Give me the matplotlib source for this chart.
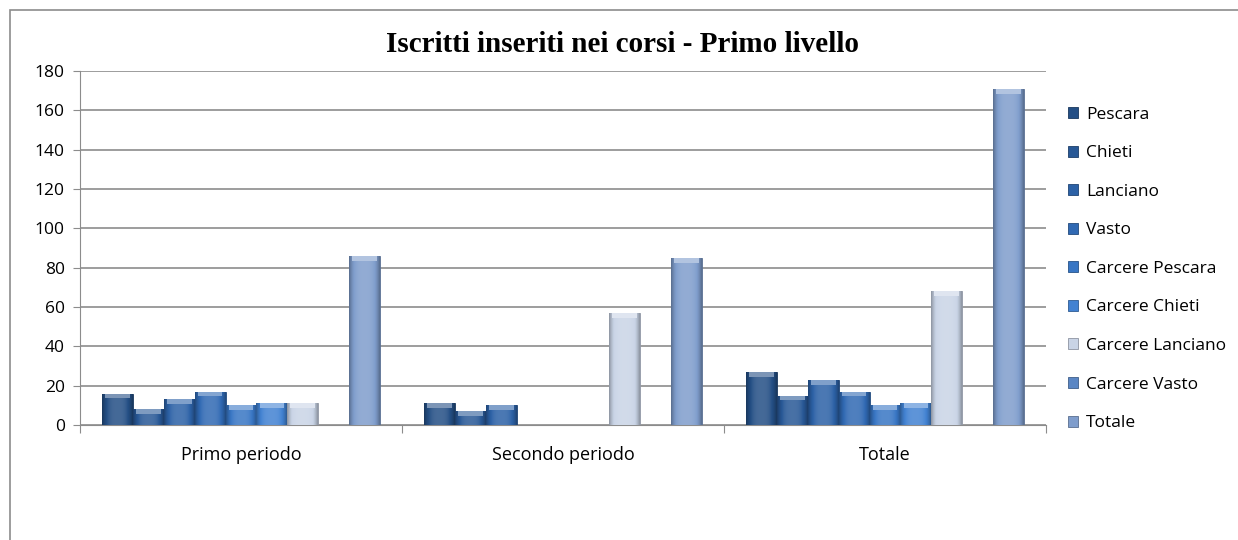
import numpy as np
import matplotlib
matplotlib.use("Agg")
import matplotlib.pyplot as plt
from matplotlib.colors import to_rgb
from matplotlib.patches import Rectangle

categories = ["Primo periodo", "Secondo periodo", "Totale"]
series = ["Pescara", "Chieti", "Lanciano", "Vasto", "Carcere Pescara",
          "Carcere Chieti", "Carcere Lanciano", "Carcere Vasto", "Totale"]
values = {
    "Pescara":          [16, 11, 27],
    "Chieti":           [8, 7, 15],
    "Lanciano":         [13, 10, 23],
    "Vasto":            [17, 0, 17],
    "Carcere Pescara":  [10, 0, 10],
    "Carcere Chieti":   [11, 0, 11],
    "Carcere Lanciano": [11, 57, 68],
    "Carcere Vasto":    [0, 0, 0],
    "Totale":           [86, 85, 171],
}
colors = ["#244f85", "#285896", "#2c61a6", "#3069b3", "#3876c4",
          "#4282d2", "#c9d4e6", "#5a86c4", "#7f9dcc"]

fig = plt.figure(figsize=(12.38, 5.4), dpi=100)
ax = fig.add_axes([80/1238, 1 - 425/540, (1046-80)/1238, (425-71)/540])

n = len(series)
bw = 0.096
x = np.arange(len(categories))

def shade(c, f):
    r = np.array(to_rgb(c))
    return np.clip(r * f, 0, 1) if f < 1 else np.clip(r + (1 - r) * (f - 1), 0, 1)

for i, s in enumerate(series):
    pos = x + (i - (n - 1) / 2) * bw
    bars = ax.bar(pos, values[s], bw, color=colors[i], edgecolor=shade(colors[i], 0.7),
                  linewidth=0.6, label=s, zorder=3)
    for b in bars:
        h = b.get_height()
        if h <= 0:
            continue
        x0, w = b.get_x(), b.get_width()
        t = np.linspace(0, 1, 64)
        prof = 1.0 - 0.9 * (np.abs(t - 0.5) * 2) ** 3
        grad = np.array([shade(colors[i], 0.65 + 0.5 * p) for p in prof])[None, :, :]
        im = ax.imshow(grad, extent=(x0, x0 + w, 0, h), aspect="auto", zorder=3.5,
                       interpolation="bilinear")
        im.set_clip_path(b)
        top = min(2.5, h * 0.4)
        ax.add_patch(Rectangle((x0 + w * 0.1, h - top), w * 0.8, top,
                               color=shade(colors[i], 1.4), zorder=3.6, linewidth=0))

ax.set_xlim(-0.5, 2.5)
ax.set_ylim(0, 180)
ax.set_yticks(range(0, 181, 20))
ax.grid(axis="y", color="#8c8c8c", linewidth=1.2, zorder=0)
ax.set_axisbelow(True)
for sp in ["top", "right"]:
    ax.spines[sp].set_visible(False)
ax.spines["left"].set_color("#8c8c8c")
ax.spines["bottom"].set_color("#8c8c8c")
ax.set_xticks([-0.5, 0.5, 1.5, 2.5])
ax.set_xticklabels([])
ax.set_xticks(x, minor=True)
ax.set_xticklabels(categories, minor=True, fontsize=13, fontfamily="Open Sans")
ax.tick_params(axis="x", which="minor", length=0, pad=15)
ax.tick_params(axis="x", which="major", length=6, color="#8c8c8c")
ax.tick_params(axis="y", length=5, color="#8c8c8c", labelsize=12.5, pad=6)
for lab in ax.get_yticklabels():
    lab.set_fontfamily("Open Sans")

fig.text(623/1238, 1 - 45/540, "Iscritti inseriti nei corsi - Primo livello", fontsize=21,
         fontweight="bold", fontfamily="Liberation Serif", ha="center", va="center")

leg = fig.legend(loc="upper left", bbox_to_anchor=(1052/1238, 1 - 91/540),
                 frameon=False, prop={"family": "Open Sans", "size": 12.5},
                 handlelength=0.6, handleheight=0.6, handletextpad=0.45,
                 labelspacing=1.3)

fig.patches.append(Rectangle((10/1238, -0.1), 1.2, 1 - 10/540 + 0.1, transform=fig.transFigure,
                             fill=False, edgecolor="#8c8c8c", linewidth=1.2))

fig.savefig("out.png", dpi=100)
